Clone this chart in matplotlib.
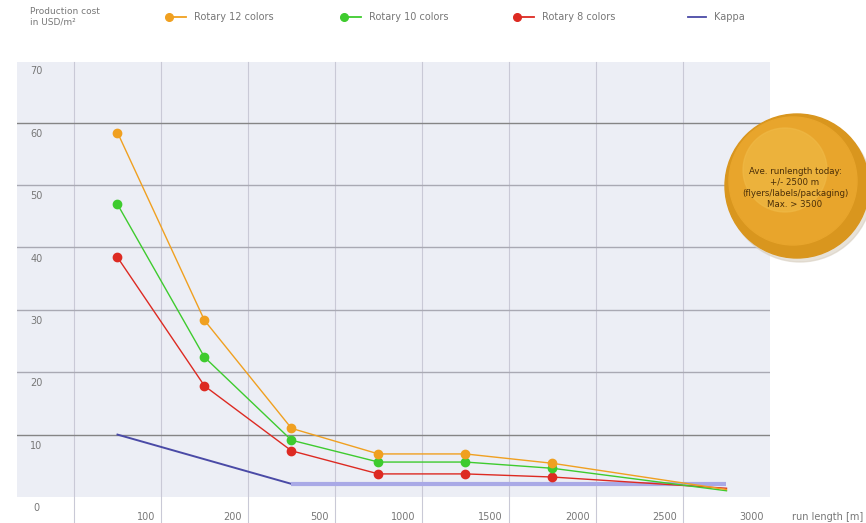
import matplotlib.pyplot as plt
from matplotlib.patches import Ellipse
from matplotlib.lines import Line2D

# run length categories (x tick labels) and data on category index scale
run_labels = ['100', '200', '500', '1000', '1500', '2000', '2500', '3000']
pos = [0.5, 1.5, 2.5, 3.5, 4.5, 5.5, 7.5]

rotary12 = [58.4, 28.3, 11.0, 6.9, 6.9, 5.4, 1.2]
rotary10 = [46.9, 22.4, 9.1, 5.6, 5.6, 4.6, 1.0]
rotary8 = [38.4, 17.8, 7.4, 3.7, 3.7, 3.2, 1.4]
kappa_pos = [0.5, 2.5, 7.5]
kappa = [10.0, 2.1, 2.1]

y_ticks = [0, 10, 20, 30, 40, 50, 60, 70]

W, H = 866, 523
fig = plt.figure(figsize=(W / 100, H / 100), dpi=100)
ax = fig.add_axes([17 / W, 26 / H, 753 / W, 435 / H])
ax.set_facecolor('#eceef5')
ax.set_xlim(-0.655, 8)
ax.set_ylim(0, 69.7)
for s in ax.spines.values():
    s.set_visible(False)
ax.set_xticks([])
ax.set_yticks([])

# grid
for i in range(8):
    ax.axvline(i, ymin=-0.06, ymax=1, color='#c9c9d6', lw=0.8, clip_on=False, zorder=1)
for v in y_ticks[1:-1]:
    c = '#858585' if v in (10, 60) else '#a9a9b3'
    ax.axhline(v, color=c, lw=1.0, zorder=1)

# y tick labels inside the plot, just under each grid line
for v in y_ticks:
    ax.text(-0.43, v - 1.8, str(v), ha='center', va='center', fontsize=7,
            color='#777777', clip_on=False)
# x tick labels right aligned on grid lines
for i, lab in enumerate(run_labels):
    ax.text(i + 1 - 0.07, -3.2, lab, ha='right', va='center', fontsize=7,
            color='#777777', clip_on=False)
ax.text(8.25, -3.2, 'run length [m]', ha='left', va='center', fontsize=7,
        color='#777777', clip_on=False)

c12, c10, c8, ck = '#f0a020', '#3ecb2e', '#dd2a22', '#4a4aa6'
ax.plot(kappa_pos[:2], kappa[:2], color=ck, lw=1.4, zorder=2)
ax.plot(kappa_pos[1:], kappa[1:], color='#a9a9e6', lw=3, zorder=2,
        solid_capstyle='butt')
for ys, c in ((rotary8, c8), (rotary10, c10), (rotary12, c12)):
    ax.plot(pos, ys, color=c, lw=1.0, zorder=3)
    ax.plot(pos[:-1], ys[:-1], 'o', color=c, ms=6, zorder=4)

# header legend
fig.text(30 / W, 1 - 17 / H, 'Production cost\nin USD/m²', ha='left', va='center',
         fontsize=6.5, color='#777777', linespacing=1.2)
legend_items = [(168, 'Rotary 12 colors', c12, True), (343, 'Rotary 10 colors', c10, True),
                (516, 'Rotary 8 colors', c8, True), (688, 'Kappa', ck, False)]
for x0, lab, c, mk in legend_items:
    fy = 1 - 17 / H
    fig.add_artist(Line2D([x0 / W, (x0 + 18) / W], [fy, fy], color=c, lw=1.3,
                          transform=fig.transFigure))
    if mk:
        fig.add_artist(Line2D([(x0 + 1) / W], [fy], marker='o', color=c, ms=5.5,
                              transform=fig.transFigure))
    fig.text((x0 + 26) / W, fy, lab, ha='left', va='center', fontsize=7, color='#777777')

# gold medallion
cx, cy, r = 797 / W, 1 - 186 / H, 72
fig.add_artist(Ellipse((cx + 3 / W, cy - 4 / H), 2 * r / W, 2 * r / H,
                       transform=fig.transFigure, color='#d8cfc0', alpha=0.6))
fig.add_artist(Ellipse((cx, cy), 2 * r / W, 2 * r / H, transform=fig.transFigure,
                       color='#d9961e'))
fig.add_artist(Ellipse((cx - 4 / W, cy + 5 / H), 2 * (r - 8) / W, 2 * (r - 8) / H,
                       transform=fig.transFigure, color='#e8a52c'))
fig.add_artist(Ellipse((cx - 12 / W, cy + 16 / H), 2 * (r - 30) / W, 2 * (r - 30) / H,
                       transform=fig.transFigure, color='#f0bb48', alpha=0.6))
fig.text(cx - 2 / W, 1 - 188 / H,
         'Ave. runlength today:\n+/- 2500 m\n(flyers/labels/packaging)\nMax. > 3500',
         ha='center', va='center', fontsize=6.2, color='#4a2e08', linespacing=1.3)

fig.savefig('out.png', dpi=100)
